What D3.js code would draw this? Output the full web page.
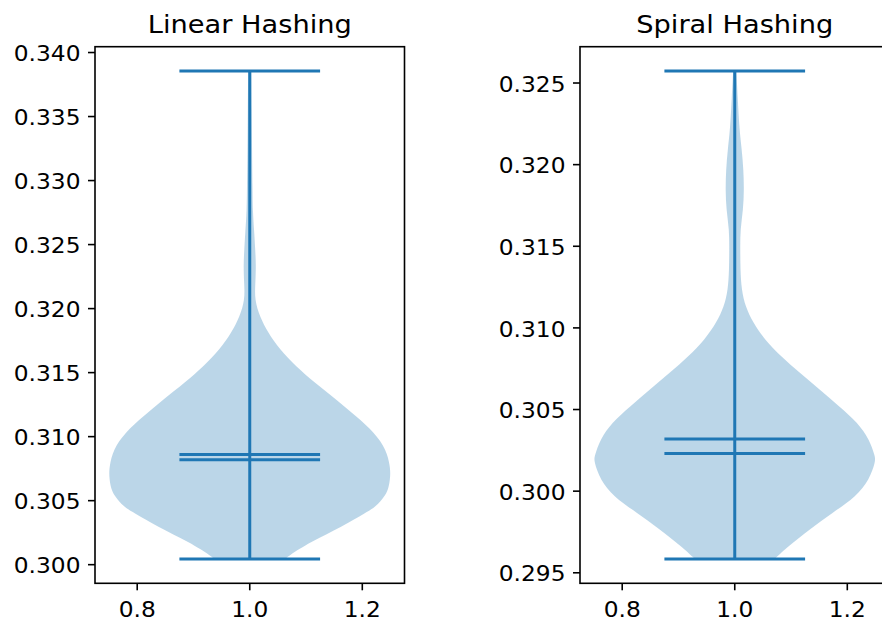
<!DOCTYPE html>
<html><head><meta charset="utf-8">
<script src="https://cdn.jsdelivr.net/npm/d3@7"></script>
<style>body{margin:0;background:#fff}svg{display:block}</style>
</head><body><svg id="chart" width="882" height="624"></svg>
<script>
const categories = ["Linear Hashing", "Spiral Hashing"];
const xTicks = [0.8, 1.0, 1.2];
const linearYTicks = [0.300, 0.305, 0.310, 0.315, 0.320, 0.325, 0.330, 0.335, 0.340];
const spiralYTicks = [0.295, 0.300, 0.305, 0.310, 0.315, 0.320, 0.325];
const minValues = [0.30045, 0.29585];
const maxValues = [0.33855, 0.32573];
const meanValues = [0.3086, 0.3032];
const medianValues = [0.3082, 0.3023];
// violin outline: value and relative half-width (1 = widest)
const linearDensityY = [0.33855,0.33553,0.33241,0.32929,0.32773,0.32593,0.32460,0.32328,0.32187,0.32070,0.31938,0.31813,0.31680,0.31547,0.31423,0.31290,0.31157,0.31032,0.30900,0.30767,0.30689,0.30588,0.30533,0.30455,0.30408,0.30299,0.30174,0.30065,0.30045];
const linearDensityW = [0.011,0.014,0.016,0.020,0.021,0.032,0.039,0.045,0.039,0.035,0.071,0.130,0.213,0.331,0.461,0.615,0.757,0.887,0.970,0.998,1.000,0.986,0.957,0.899,0.828,0.660,0.426,0.270,0.255];
const spiralDensityY = [0.32573,0.32416,0.32214,0.32092,0.31969,0.31847,0.31724,0.31602,0.31479,0.31357,0.31234,0.31130,0.31032,0.30928,0.30824,0.30726,0.30622,0.30518,0.30420,0.30316,0.30212,0.30181,0.30071,0.29967,0.29869,0.29765,0.29661,0.29585];
const spiralDensityW = [0.011,0.021,0.033,0.050,0.062,0.066,0.060,0.039,0.039,0.040,0.048,0.076,0.130,0.213,0.331,0.461,0.603,0.745,0.874,0.957,0.998,1.000,0.957,0.863,0.697,0.532,0.378,0.284];

const yTickSets = [linearYTicks, spiralYTicks];
const densY = [linearDensityY, spiralDensityY];
const densW = [linearDensityW, spiralDensityW];

const svg = d3.select("#chart");
const color = "#1f77b4";
const font = "'DejaVu Sans', sans-serif";
const stretch = 1.09;
const boxes = [
  {left: 95, right: 404.5, top: 46.7, bottom: 583.3},
  {left: 580, right: 889.5, top: 46.7, bottom: 583.3}
];
const pos = 1.0, width = 0.5;

function label(g, x, y, txt, size, anchor) {
  g.append("text")
    .attr("transform", `translate(${x},${y}) scale(${stretch},1)`)
    .attr("text-anchor", anchor)
    .attr("font-family", font)
    .attr("font-size", size)
    .attr("fill", "#000")
    .text(txt);
}

categories.forEach((name, i) => {
  const b = boxes[i];
  const lo = minValues[i], hi = maxValues[i], r = hi - lo;
  const x = d3.scaleLinear().domain([pos - width/2 - 0.025, pos + width/2 + 0.025]).range([b.left, b.right]);
  const y = d3.scaleLinear().domain([lo - 0.05*r, hi + 0.05*r]).range([b.bottom, b.top]);
  const g = svg.append("g");

  const pts = densY[i].map((v, k) => ({v, w: densW[i][k]}));
  const area = d3.area()
    .y(d => y(d.v))
    .x0(d => x(pos - d.w*width/2))
    .x1(d => x(pos + d.w*width/2))
    .curve(d3.curveBasis);
  g.append("path").datum(pts).attr("d", area)
    .attr("fill", color).attr("fill-opacity", 0.3);

  // vertical bar
  g.append("line").attr("x1", x(pos)).attr("x2", x(pos)).attr("y1", y(lo)).attr("y2", y(hi))
    .attr("stroke", color).attr("stroke-width", 3);
  [lo, hi, meanValues[i], medianValues[i]].forEach(v => {
    g.append("line").attr("x1", x(pos - width/4)).attr("x2", x(pos + width/4))
      .attr("y1", y(v)).attr("y2", y(v))
      .attr("stroke", color).attr("stroke-width", 3);
  });

  // spines
  g.append("rect").attr("x", b.left).attr("y", b.top)
    .attr("width", b.right - b.left).attr("height", b.bottom - b.top)
    .attr("fill", "none").attr("stroke", "#000").attr("stroke-width", 1.6);

  // y ticks
  yTickSets[i].forEach(t => {
    const yy = y(t);
    g.append("line").attr("x1", b.left - 7).attr("x2", b.left).attr("y1", yy).attr("y2", yy)
      .attr("stroke", "#000").attr("stroke-width", 1.6);
    label(g, b.left - 14.5, yy + 8.7, d3.format(".3f")(t), 21.4, "end");
  });
  // x ticks
  xTicks.forEach(t => {
    const xx = x(t);
    g.append("line").attr("x1", xx).attr("x2", xx).attr("y1", b.bottom).attr("y2", b.bottom + 7)
      .attr("stroke", "#000").attr("stroke-width", 1.6);
    label(g, xx, 617, d3.format(".1f")(t), 21.4, "middle");
  });
  // title
  label(g, (b.left + b.right)/2, 33.3, name, 25, "middle");
});
</script></body></html>
